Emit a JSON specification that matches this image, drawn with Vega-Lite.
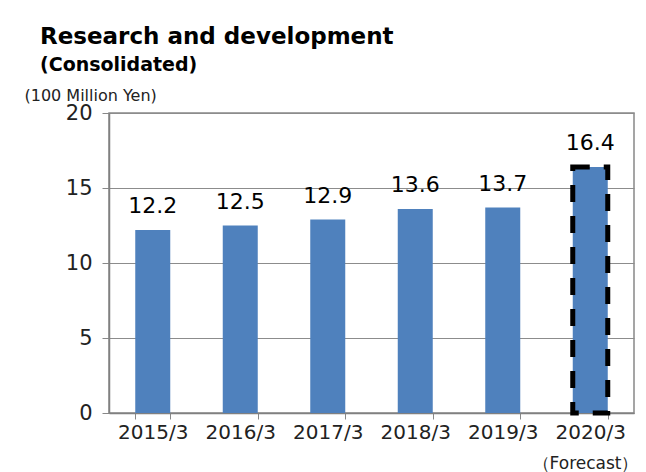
{
  "$schema": "https://vega.github.io/schema/vega-lite/v6.json",
  "width": 525,
  "height": 300,
  "autosize": {"type": "none"},
  "padding": {"left": 109, "top": 113, "right": 12, "bottom": 59},
  "background": "white",
  "title": {
    "text": "Research and development",
    "subtitle": "(Consolidated)",
    "anchor": "start",
    "frame": "group",
    "dx": -69,
    "offset": 12,
    "font": "DejaVu Sans",
    "fontSize": 23,
    "fontWeight": "bold",
    "color": "black",
    "subtitleFont": "DejaVu Sans",
    "subtitleFontSize": 19,
    "subtitleFontWeight": "bold",
    "subtitleColor": "black",
    "subtitlePadding": 7
  },
  "data": {
    "values": [
      {"year": "2015/3", "value": 12.2, "forecast": false},
      {"year": "2016/3", "value": 12.5, "forecast": false},
      {"year": "2017/3", "value": 12.9, "forecast": false},
      {"year": "2018/3", "value": 13.6, "forecast": false},
      {"year": "2019/3", "value": 13.7, "forecast": false},
      {"year": "2020/3", "value": 16.4, "forecast": true}
    ]
  },
  "encoding": {
    "x": {
      "field": "year",
      "type": "ordinal",
      "sort": null,
      "scale": {"paddingInner": 0.6, "paddingOuter": 0.3},
      "axis": {
        "title": "（Forecast）",
        "titleFont": "DejaVu Sans",
        "titleFontSize": 17,
        "titleFontWeight": "normal",
        "titleColor": "#222",
        "titleAnchor": "end",
        "titleAlign": "right",
        "titleX": 529,
        "titleY": 50,
        "titleBaseline": "middle",
        "labelAngle": 0,
        "labelFont": "DejaVu Sans",
        "labelFontSize": 20,
        "labelColor": "#222",
        "labelPadding": 3,
        "tickBand": "extent",
        "tickSize": 6,
        "tickColor": "#888",
        "domainColor": "#808080",
        "domainWidth": 1.5
      }
    }
  },
  "layer": [
    {
      "mark": {"type": "bar", "color": "#4f81bd", "strokeWidth": 5, "strokeDash": [17, 14], "strokeDashOffset": 0},
      "encoding": {
        "y": {
          "field": "value",
          "type": "quantitative",
          "scale": {"domain": [0, 20]},
          "axis": {
            "values": [0, 5, 10, 15, 20],
            "title": "(100 Million Yen)",
            "titleAngle": 0,
            "titleAlign": "left",
            "titleBaseline": "middle",
            "titleX": -85,
            "titleY": -18,
            "titleFont": "DejaVu Sans",
            "titleFontSize": 16,
            "titleFontWeight": "normal",
            "titleColor": "#222",
            "labelFont": "DejaVu Sans",
            "labelFontSize": 21,
            "labelColor": "#222",
            "labelPadding": 10,
            "tickSize": 7,
            "tickColor": "#888",
            "grid": true,
            "gridColor": "#8c8c8c",
            "gridWidth": 1,
            "domainColor": "#808080",
            "domainWidth": 1.5
          }
        },
        "stroke": {"condition": {"test": "datum.forecast", "value": "black"}, "value": null}
      }
    },
    {
      "mark": {"type": "text", "baseline": "bottom", "dy": -12, "font": "DejaVu Sans", "fontSize": 22, "color": "black"},
      "encoding": {
        "y": {"field": "value", "type": "quantitative"},
        "text": {"field": "value", "type": "quantitative", "format": ".1f"}
      }
    }
  ],
  "config": {
    "view": {"stroke": "#888", "strokeWidth": 1.5}
  }
}
